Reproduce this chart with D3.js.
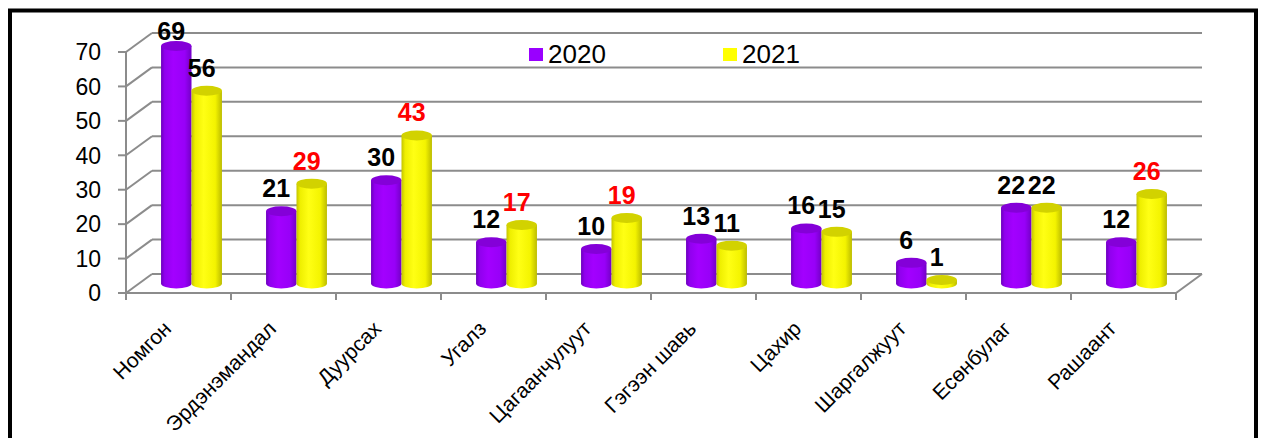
<!DOCTYPE html>
<html>
<head>
<meta charset="utf-8">
<script src="https://cdn.jsdelivr.net/npm/d3@7"></script>
<style>
  body { margin: 0; background: #fff; }
  svg { display: block; font-family: Arial, "Liberation Sans", sans-serif; }
</style>
</head>
<body>
<svg></svg>
<script>
var width = 1264;
var height = 438;

var categories = ["Номгон", "Эрдэнэмандал", "Дуурсах", "Угалз", "Цагаанчулуут",
                  "Гэгээн шавь", "Цахир", "Шаргалжуут", "Есөнбулаг", "Рашаант"];
var series = ["2020", "2021"];
var values2020 = [69, 21, 30, 12, 10, 13, 16, 6, 22, 12];
var values2021 = [56, 29, 43, 17, 19, 11, 15, 1, 22, 26];
var yTicks = [0, 10, 20, 30, 40, 50, 60, 70];

// 3d look: back wall is shifted by (depthX, depthY) from the front plane
var depthX = 26, depthY = -19;
var plotLeft = 126, plotRight = 1176, plotBottom = 293, plotTop = 52;

var svg = d3.select("svg")
    .attr("width", width)
    .attr("height", height);

svg.append("rect").attr("width", width).attr("height", height).attr("fill", "#fff");

var y = d3.scaleLinear().domain([0, 70]).range([plotBottom, plotTop]);

var x0 = d3.scaleBand()
    .domain(categories)
    .range([plotLeft, plotRight])
    .paddingInner(0.42)
    .paddingOuter(0.21);

var x1 = d3.scaleBand()
    .domain(series)
    .range([0, x0.bandwidth()]);

var cat = d3.scaleBand().domain(categories).range([plotLeft, plotRight]);

// gradients for the cylinders
var defs = svg.append("defs");
function sideGradient(id, stops) {
    var g = defs.append("linearGradient").attr("id", id)
        .attr("x1", "0%").attr("x2", "100%").attr("y1", "0%").attr("y2", "0%");
    stops.forEach(function(s) {
        g.append("stop").attr("offset", s[0]).attr("stop-color", s[1]);
    });
}
sideGradient("side2020", [["0%", "#6c00bc"], ["12%", "#9000ee"], ["40%", "#a300ff"], ["78%", "#9800f8"], ["100%", "#7200c6"]]);
sideGradient("side2021", [["0%", "#c4c400"], ["12%", "#efef00"], ["40%", "#ffff14"], ["78%", "#f4f400"], ["100%", "#bcbc00"]]);
var topColor = { "2020": "#8400d8", "2021": "#d2d200" };

// grid: back wall lines + left wall diagonals
var grid = svg.append("g").attr("class", "grid");
grid.selectAll(".back")
    .data(yTicks)
  .enter().append("line")
    .attr("x1", plotLeft + depthX).attr("x2", plotRight + depthX)
    .attr("y1", function(d) { return y(d) + depthY; })
    .attr("y2", function(d) { return y(d) + depthY; })
    .attr("stroke", "#8c8c8c").attr("stroke-width", 2);

grid.selectAll(".side")
    .data(yTicks)
  .enter().append("line")
    .attr("x1", plotLeft).attr("x2", plotLeft + depthX)
    .attr("y1", function(d) { return y(d); })
    .attr("y2", function(d) { return y(d) + depthY; })
    .attr("stroke", "#8c8c8c").attr("stroke-width", 2);

// floor front edge and right edge
grid.append("path")
    .attr("d", "M" + plotLeft + "," + plotBottom + "H" + plotRight +
               "L" + (plotRight + depthX) + "," + (plotBottom + depthY))
    .attr("fill", "none").attr("stroke", "#8c8c8c").attr("stroke-width", 2);

// y axis
grid.append("line")
    .attr("x1", plotLeft).attr("x2", plotLeft)
    .attr("y1", y(0)).attr("y2", y(70))
    .attr("stroke", "#8c8c8c").attr("stroke-width", 2);

grid.selectAll(".ytick")
    .data(yTicks)
  .enter().append("line")
    .attr("x1", plotLeft - 8).attr("x2", plotLeft)
    .attr("y1", function(d) { return y(d); })
    .attr("y2", function(d) { return y(d); })
    .attr("stroke", "#8c8c8c").attr("stroke-width", 2);

svg.append("g").selectAll("text")
    .data(yTicks)
  .enter().append("text")
    .attr("x", 101)
    .attr("y", function(d) { return y(d); })
    .attr("dy", "0.36em")
    .attr("text-anchor", "end")
    .attr("font-size", "23px")
    .attr("fill", "#000")
    .text(function(d) { return d; });

// category ticks
var catEdges = categories.map(function(c) { return cat(c); }).concat([plotRight]);
grid.selectAll(".xtick")
    .data(catEdges)
  .enter().append("line")
    .attr("x1", function(d) { return d; }).attr("x2", function(d) { return d; })
    .attr("y1", plotBottom).attr("y2", plotBottom + 7)
    .attr("stroke", "#8c8c8c").attr("stroke-width", 2);

// bars (cylinders), placed at mid depth
var midX = depthX / 2, midY = depthY / 2;
var bars = [];
categories.forEach(function(c, i) {
    bars.push({ cat: c, s: "2020", v: values2020[i], other: values2021[i] });
    bars.push({ cat: c, s: "2021", v: values2021[i], other: values2020[i] });
});

var ry = 5;
var barG = svg.append("g").selectAll(".bar")
    .data(bars)
  .enter().append("g")
    .attr("class", "bar");

barG.each(function(d) {
    var g = d3.select(this);
    var xl = x0(d.cat) + x1(d.s) + midX;
    var w = x1.bandwidth();
    var rx = w / 2;
    var yb = y(0) + midY;
    var yt = y(d.v) + midY;
    d.cx = xl + rx;
    d.yt = yt;
    g.append("path")
        .attr("d", "M" + xl + "," + yb + "V" + yt + "H" + (xl + w) + "V" + yb +
                   "A" + rx + "," + ry + " 0 0 1 " + xl + "," + yb + "Z")
        .attr("fill", "url(#side" + d.s + ")");
    g.append("ellipse")
        .attr("cx", d.cx).attr("cy", yt)
        .attr("rx", rx).attr("ry", ry)
        .attr("fill", topColor[d.s]);
});

// data labels: 2021 in red when it grew
svg.append("g").selectAll("text")
    .data(bars)
  .enter().append("text")
    .attr("x", function(d) { return d.cx - 5; })
    .attr("y", function(d) { return Math.max(40, d.yt - 14); })
    .attr("text-anchor", "middle")
    .attr("font-size", "25px")
    .attr("font-weight", "bold")
    .attr("fill", function(d) { return d.s === "2021" && d.v > d.other ? "#ff0000" : "#000"; })
    .text(function(d) { return d.v; });

// category labels
svg.append("g").selectAll("text")
    .data(categories)
  .enter().append("text")
    .attr("transform", function(d) {
        return "translate(" + (cat(d) + cat.bandwidth() / 2 - 6) + "," + 330 + ") rotate(-45)";
    })
    .attr("text-anchor", "end")
    .attr("font-size", "21px")
    .attr("fill", "#000")
    .text(function(d) { return d; });

// legend
var legendX = { "2020": 529, "2021": 723 };
var lg = svg.append("g").selectAll("g")
    .data(series)
  .enter().append("g")
    .attr("transform", function(d) { return "translate(" + legendX[d] + ",48)"; });
lg.append("rect")
    .attr("width", 14).attr("height", 13)
    .attr("fill", function(d) { return d === "2020" ? "#9900ff" : "#ffff00"; });
lg.append("text")
    .attr("x", 19).attr("y", 14.5)
    .attr("font-size", "26px")
    .attr("fill", "#000")
    .text(function(d) { return d; });

// frame
svg.append("rect")
    .attr("x", 10).attr("y", 10.5)
    .attr("width", 1246).attr("height", 450)
    .attr("fill", "none")
    .attr("stroke", "#000")
    .attr("stroke-width", 4);
</script>
</body>
</html>
